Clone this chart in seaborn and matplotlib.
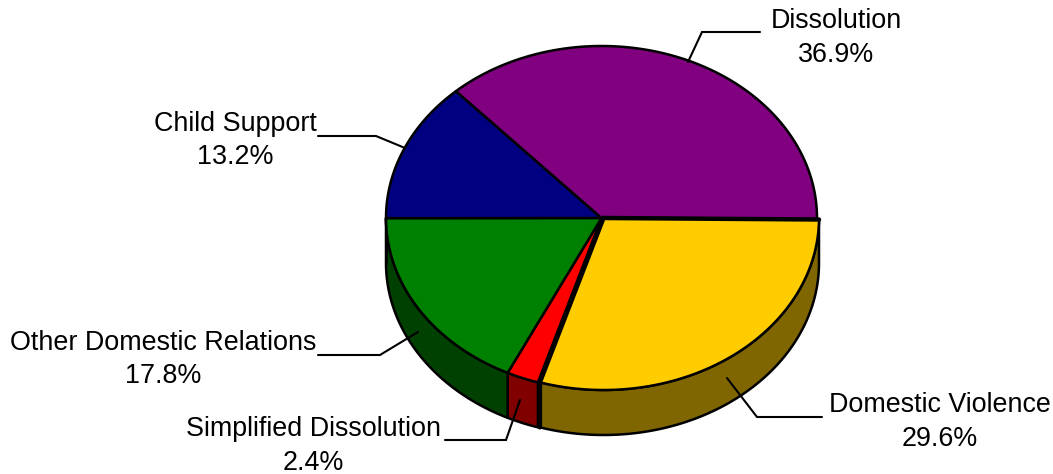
import numpy as np
import pandas as pd
import matplotlib
matplotlib.use("Agg")
import matplotlib.pyplot as plt
import seaborn as sns

# Data, clockwise from the 3 o'clock position
categories = ["Domestic Violence", "Simplified Dissolution", "Other Domestic Relations",
              "Child Support", "Dissolution"]
shares = [29.6, 2.4, 17.8, 13.2, 36.9]
top_colors = ["#FFCC00", "#FF0000", "#008000", "#000080", "#800080"]
side_colors = ["#806600", "#800000", "#004000", "#000040", "#400040"]

# Layout (pixels)
CX, CY, RX, RY, DEPTH = 601.5, 218.0, 215.5, 172.0, 45.0
START = np.deg2rad(0.5)
offsets = [(2, 0), (0, 0), (0, 0), (0, 0), (0, 0)]
leaders = [
    [(727, 378), (757, 417), (822, 417)],
    [(520, 400), (506, 440), (445, 440)],
    [(418, 332), (380, 355), (318, 355)],
    [(405, 148), (376, 136), (318, 136)],
    [(688, 62), (702, 32), (760, 32)],
]
label_pos = [(939.5, 422), (313, 446), (163.5, 359.5), (235.5, 140.5), (836, 38)]

sns.set_theme(style="white")
plt.rcParams["font.family"] = ["Liberation Sans", "DejaVu Sans"]

df = pd.DataFrame({"category": categories, "share": shares,
                   "top": top_colors, "side": side_colors})
total = df["share"].sum()
df["end"] = START + df["share"].cumsum() / total * 2 * np.pi
df["start"] = df["end"] - df["share"] / total * 2 * np.pi

fig = plt.figure(figsize=(10.53, 4.74), dpi=100, facecolor="white")
ax = fig.add_axes([0, 0, 1, 1])
ax.set_xlim(0, 1053)
ax.set_ylim(474, 0)
ax.axis("off")

LW = 1.8


def arc(a0, a1, ox, oy, dy=0.0):
    t = np.linspace(a0, a1, 200)
    return CX + ox + RX * np.cos(t), CY + oy + dy + RY * np.sin(t)


# side walls: only the front half of the disc is visible
for i, r in df.iterrows():
    ox, oy = offsets[i]
    a0, a1 = r["start"], min(r["end"], np.pi)
    if a0 >= np.pi:
        continue
    x, y = arc(a0, a1, ox, oy)
    xb, yb = arc(a0, a1, ox, oy, DEPTH)
    ax.fill(np.r_[x, xb[::-1]], np.r_[y, yb[::-1]], facecolor=r["side"],
            edgecolor="black", linewidth=LW, joinstyle="round", zorder=2)

# top faces; the pulled-out first slice sits above its neighbours
for i, r in df.iterrows():
    ox, oy = offsets[i]
    x, y = arc(r["start"], r["end"], ox, oy)
    ax.fill(np.r_[CX + ox, x], np.r_[CY + oy, y], facecolor=r["top"],
            edgecolor="black", linewidth=LW, joinstyle="round",
            zorder=3.5 if i == 0 else 3)

# heavier seam around the pulled-out slice
r0 = df.iloc[0]
ox, oy = offsets[0]
sx, sy = arc(r0["start"], r0["start"], ox, oy)
ex, ey = arc(r0["end"], r0["end"], ox, oy)
ax.plot([sx[0], CX + ox, ex[0], ex[0]], [sy[0], CY + oy, ey[0], ey[0] + DEPTH],
        color="black", linewidth=3.2, solid_joinstyle="miter", zorder=3.6)

# leader lines and labels
for i, r in df.iterrows():
    pts = np.array(leaders[i])
    ax.plot(pts[:, 0], pts[:, 1], color="black", linewidth=1.5, zorder=4,
            solid_joinstyle="miter")
    lx, ly = label_pos[i]
    ax.text(lx, ly, f"{r['category']}\n{r['share']:.1f}%", ha="center", va="center",
            fontsize=19.4, color="black", linespacing=1.36, zorder=5)

sns.despine(ax=ax, left=True, bottom=True)
fig.savefig("out.png", dpi=100, facecolor="white")
